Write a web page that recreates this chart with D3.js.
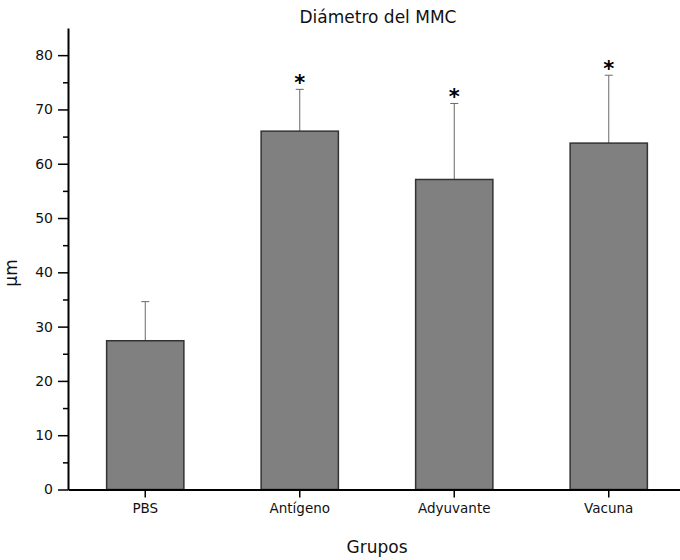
<!DOCTYPE html>
<html>
<head>
<meta charset="utf-8">
<script src="https://d3js.org/d3.v7.min.js"></script>
<style>
  body { margin: 0; background: #fff; }
  text { font-family: 'DejaVu Sans', sans-serif; }
</style>
</head>
<body>
<svg id="chart" width="680" height="560"></svg>
<script>
// data
var groups = ['PBS', 'Antígeno', 'Adyuvante', 'Vacuna'];
var means = [27.4, 66.0, 57.1, 63.8];
var errs = [7.2, 7.7, 14.0, 12.5];
var stars = ['', '*', '*', '*'];
var majorTicks = [0, 10, 20, 30, 40, 50, 60, 70, 80];
var minorTicks = [5, 15, 25, 35, 45, 55, 65, 75];

var svg = d3.select('#chart');

var xs = d3.scaleBand().domain(groups).range([68, 686]).paddingInner(0.5).paddingOuter(0.25);
var ys = d3.scaleLinear().domain([0, 85]).range([489.5, 28]);

var data = groups.map(function(g, i) { return {g: g, m: means[i], e: errs[i], s: stars[i]}; });

// error bars (upper only), drawn first so the bar outline sits over the stem
var eb = svg.append('g');
eb.selectAll('line.stem').data(data).enter().append('line')
  .attr('x1', d => xs(d.g) + xs.bandwidth() / 2)
  .attr('x2', d => xs(d.g) + xs.bandwidth() / 2)
  .attr('y1', d => ys(d.m))
  .attr('y2', d => ys(d.m + d.e))
  .style('stroke', '#6a6a6a').style('stroke-width', 1);
eb.selectAll('line.cap').data(data).enter().append('line')
  .attr('x1', d => xs(d.g) + xs.bandwidth() / 2 - 4)
  .attr('x2', d => xs(d.g) + xs.bandwidth() / 2 + 4)
  .attr('y1', d => ys(d.m + d.e))
  .attr('y2', d => ys(d.m + d.e))
  .style('stroke', '#6a6a6a').style('stroke-width', 1);

// bars
svg.append('g').selectAll('rect').data(data).enter().append('rect')
  .attr('x', d => xs(d.g))
  .attr('y', d => ys(d.m))
  .attr('width', xs.bandwidth())
  .attr('height', d => ys(0) - ys(d.m))
  .attr('fill', '#808080')
  .attr('stroke', '#333')
  .attr('stroke-width', 1.5);

// significance stars
svg.append('g').selectAll('text').data(data).enter().append('text')
  .attr('x', d => xs(d.g) + xs.bandwidth() / 2)
  .attr('y', d => ys(d.m + d.e) + 1)
  .attr('text-anchor', 'middle')
  .style('font-size', '21px')
  .attr('font-weight', 'bold')
  .text(d => d.s);

// y axis: minor then major ticks
svg.append('g')
  .attr('transform', 'translate(68,0)')
  .call(d3.axisLeft(ys).tickValues(minorTicks).tickSize(5).tickFormat(''))
  .call(g => g.select('.domain').remove())
  .selectAll('line').style('stroke', '#000').style('stroke-width', 1.5);
var yAxis = svg.append('g')
  .attr('transform', 'translate(68,0)')
  .call(d3.axisLeft(ys).tickValues(majorTicks).tickSize(10).tickSizeOuter(0).tickPadding(5));
yAxis.selectAll('line').style('stroke', '#000').style('stroke-width', 1.5);
yAxis.select('.domain').style('stroke', '#000').style('stroke-width', 2);
yAxis.selectAll('text').style('font-size', '14px').style('font-family', 'DejaVu Sans').attr('fill', '#111');

// x axis
var xAxis = svg.append('g')
  .attr('transform', 'translate(0,' + ys(0) + ')')
  .call(d3.axisBottom(xs).tickSize(8).tickSizeOuter(0).tickPadding(6));
xAxis.selectAll('line').style('stroke', '#000').style('stroke-width', 1.5);
xAxis.select('.domain').style('stroke', '#000').style('stroke-width', 2);
xAxis.selectAll('text').style('font-size', '13.5px').style('font-family', 'DejaVu Sans').attr('fill', '#111');

// titles
svg.append('text')
  .attr('x', 378).attr('y', 23)
  .attr('text-anchor', 'middle')
  .style('font-size', '17px')
  .attr('fill', '#111')
  .text('Diámetro del MMC');
svg.append('text')
  .attr('x', 377).attr('y', 553)
  .attr('text-anchor', 'middle')
  .style('font-size', '17px')
  .attr('fill', '#111')
  .text('Grupos');
svg.append('text')
  .attr('transform', 'translate(17,273) rotate(-90)')
  .attr('text-anchor', 'middle')
  .style('font-size', '17px')
  .attr('fill', '#111')
  .text('µm');
</script>
</body>
</html>
